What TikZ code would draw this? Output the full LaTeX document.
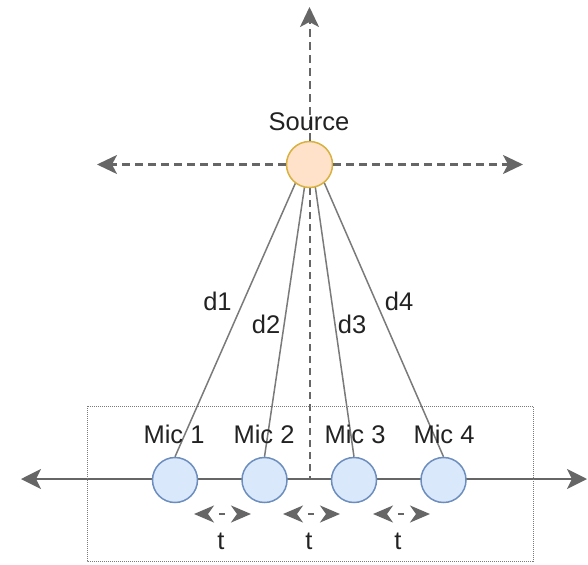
\documentclass[tikz,border=0pt]{standalone}
\usepackage{fontspec}
\setmainfont{Liberation Sans}
\usetikzlibrary{arrows.meta}
\definecolor{ink}{HTML}{222222}
\definecolor{wire}{HTML}{7A7A7A}
\definecolor{guidegray}{HTML}{666666}
\definecolor{micfill}{HTML}{DAE8FC}
\definecolor{micdraw}{HTML}{6C8EBF}
\definecolor{srcfill}{HTML}{FFE2C9}
\definecolor{srcdraw}{HTML}{D9B13F}
\pgfdeclarelayer{bg}
\pgfsetlayers{bg,main}
\begin{document}
\begin{tikzpicture}[x=1pt,y=-1pt,
  txt/.style={font=\fontsize{25.5}{30}\selectfont, text=ink, inner sep=0pt, anchor=base},
  mic/.style={circle, minimum size=45pt, inner sep=0pt, fill=micfill, draw=micdraw, line width=1.5pt},
  src/.style={circle, minimum size=46pt, inner sep=0pt, fill=srcfill, draw=srcdraw, line width=1.5pt},
  guide/.style={draw=guidegray, line width=2pt, dash pattern=on 8pt off 5pt, -{Stealth[length=20pt,width=19pt,inset=5pt]}},
  guideplain/.style={draw=guidegray, line width=2pt, dash pattern=on 7pt off 5pt},
  axisline/.style={draw=guidegray, line width=2pt, {Stealth[length=20pt,width=20pt,inset=5pt]}-{Stealth[length=20pt,width=20pt,inset=5pt]}},
  spacing/.style={draw=guidegray, line width=2.5pt, {Stealth[length=20pt,width=17pt,inset=6pt]}-{Stealth[length=20pt,width=17pt,inset=6pt]}, dash pattern=on 6pt off 30pt, dash phase=24pt},
  wireline/.style={draw=wire, line width=1.5pt},
  frame/.style={draw=wire, line width=1pt, dash pattern=on 1pt off 1pt}
]
\useasboundingbox (0,0) rectangle (588,564);

% array enclosure
\draw[frame] (87,406) rectangle (533,561);

% source and microphones
\node[src] (src) at (309.5,164.5) {};
\node[mic] (m1) at (175,480) {};
\node[mic] (m2) at (264.5,480) {};
\node[mic] (m3) at (354,480) {};
\node[mic] (m4) at (443.5,480) {};

\coordinate (hub) at (310,150);
\coordinate (up) at (309.5,7);
\coordinate (west) at (97,164.5);
\coordinate (east) at (523,164.5);
\coordinate (axL) at (21,479);
\coordinate (axR) at (587,479);
\coordinate (axmid) at (309.5,479);

\begin{pgfonlayer}{bg}
  % microphone axis
  \draw[axisline] (axL) -- (axR);
  % source position guides
  \draw[guideplain] (src.south) -- (axmid);
  % paths from source to each microphone
  \draw[wireline] (hub) -- (m1.north);
  \draw[wireline] (hub) -- (m2.north);
  \draw[wireline] (hub) -- (m3.north);
  \draw[wireline] (hub) -- (m4.north);
\end{pgfonlayer}

\draw[guide] (src.north) -- (up);
\draw[guide] (src.west) -- (west);
\draw[guide] (src.east) -- (east);

% spacing between microphones
\coordinate (s1a) at (194,514); \coordinate (s1b) at (251,514);
\coordinate (s2a) at (283,514); \coordinate (s2b) at (340,514);
\coordinate (s3a) at (373,514); \coordinate (s3b) at (430,514);
\draw[spacing] (s1a) -- (s1b);
\draw[spacing] (s2a) -- (s2b);
\draw[spacing] (s3a) -- (s3b);

% labels
\node[txt] (lsrc) at (309,131) {Source};
\node[txt] (l1) at (174,443) {Mic 1};
\node[txt] (l2) at (264,443) {Mic 2};
\node[txt] (l3) at (355,443) {Mic 3};
\node[txt] (l4) at (444,443) {Mic 4};
\node[txt] (d1) at (217.5,310) {d1};
\node[txt] (d2) at (266,333) {d2};
\node[txt] (d3) at (352,333) {d3};
\node[txt] (d4) at (399,310) {d4};
\node[txt] (t1) at (221,549) {t};
\node[txt] (t2) at (309,549) {t};
\node[txt] (t3) at (398,549) {t};
\end{tikzpicture}
\end{document}
